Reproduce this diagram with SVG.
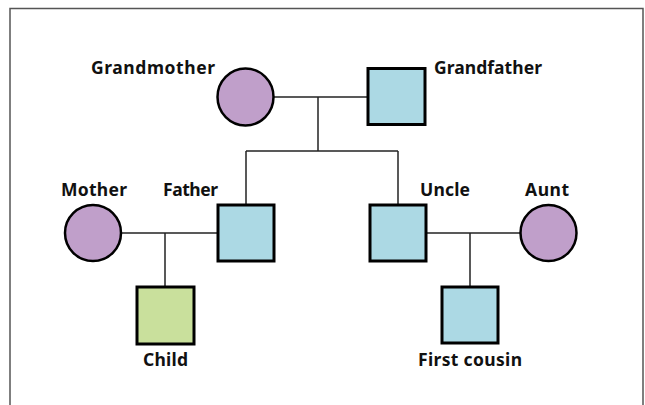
<svg xmlns="http://www.w3.org/2000/svg" width="645" height="405" viewBox="0 0 645 405">
<style>
.lbl{font-family:"Noto Sans","Open Sans","DejaVu Sans",sans-serif;font-weight:bold;font-size:17.5px;fill:#111}
.f{fill:#c09fca;stroke:#000;stroke-width:2.5}
.m{fill:#acd9e4;stroke:#000;stroke-width:3}
.c{fill:#c9e09c;stroke:#000;stroke-width:3}
.ln{stroke:#222;stroke-width:1.5;fill:none}
</style>
<rect width="645" height="405" fill="#fff"/>
<path d="M10,405 V8.5 H643 V405" fill="none" stroke="#555" stroke-width="1.5"/>
<g id="connectors">
<path class="ln" d="M274,97 H368"/>
<path class="ln" d="M318,97 V151"/>
<path class="ln" d="M246,151 H398"/>
<path class="ln" d="M246,151 V205"/>
<path class="ln" d="M398,151 V205"/>
<path class="ln" d="M121,233 H218"/>
<path class="ln" d="M165,233 V287"/>
<path class="ln" d="M426,233 H520"/>
<path class="ln" d="M470,233 V287"/>
</g>
<g id="grandmother"><ellipse class="f" cx="245.5" cy="97" rx="28" ry="28.5"/><text class="lbl" x="91" y="74" textLength="124">Grandmother</text></g>
<g id="grandfather"><rect class="m" x="368" y="68.5" width="57" height="56"/><text class="lbl" x="434" y="74" textLength="108">Grandfather</text></g>
<g id="mother"><circle class="f" cx="93" cy="233" r="28"/><text class="lbl" x="61" y="196" textLength="66">Mother</text></g>
<g id="father"><rect class="m" x="218" y="205" width="56" height="56"/><text class="lbl" x="163" y="196" textLength="55">Father</text></g>
<g id="uncle"><rect class="m" x="370" y="205" width="56" height="56"/><text class="lbl" x="420" y="196" textLength="50">Uncle</text></g>
<g id="aunt"><circle class="f" cx="548.5" cy="233" r="28"/><text class="lbl" x="525" y="196" textLength="44">Aunt</text></g>
<g id="child"><rect class="c" x="137" y="287" width="57" height="57"/><text class="lbl" x="143" y="366" textLength="45">Child</text></g>
<g id="cousin"><rect class="m" x="442" y="287" width="56" height="56"/><text class="lbl" x="418" y="366" textLength="104">First cousin</text></g>
</svg>
